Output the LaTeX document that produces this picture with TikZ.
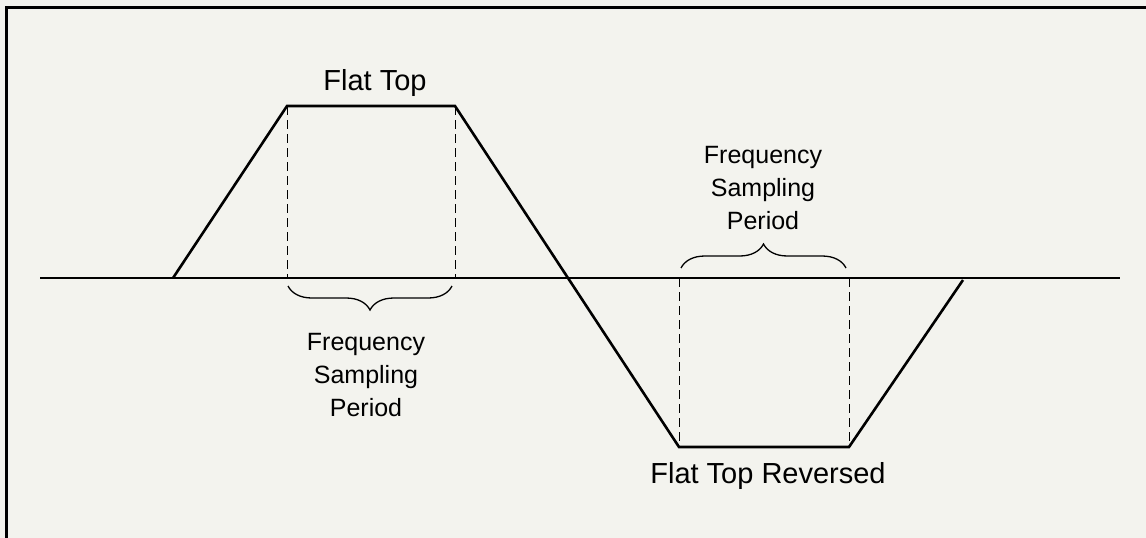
\documentclass[tikz,border=0pt]{standalone}
\usepackage{fontspec}
\setmainfont{Liberation Sans}
\usepackage{tikz}
\usetikzlibrary{decorations.pathreplacing}

\definecolor{paper}{HTML}{F3F3EE}

\begin{document}
\begin{tikzpicture}[
    x=1pt, y=-1pt,
    wave/.style={line width=2.6pt, line join=miter},
    axisline/.style={line width=1.4pt},
    guide/.style={dashed, line width=0.8pt, dash pattern=on 9pt off 5pt},
    brc/.style={decorate, decoration={brace, amplitude=24pt}, line width=1.3pt},
    title/.style={font=\fontsize{29}{34}\selectfont, inner sep=0pt},
    note/.style={font=\fontsize{25}{33}\selectfont, align=center, inner sep=0pt}
  ]
    \useasboundingbox (0,0) rectangle (1146,538);
    \fill[paper] (0,0) rectangle (1146,538);
    \draw[line width=3pt] (6,538) -- (6,7.5) -- (1146,7.5);

    % axis
    \coordinate (axl) at (40,278);
    \coordinate (axr) at (1120,278);
    \draw[axisline] (axl) -- (axr);

    % waveform corners
    \coordinate (w0) at (173,278);
    \coordinate (w1) at (287,106);
    \coordinate (w2) at (455,106);
    \coordinate (w3) at (679,447);
    \coordinate (w4) at (849,447);
    \coordinate (w5) at (963,280);
    \draw[wave] (w0) -- (w1) -- (w2) -- (w3) -- (w4) -- (w5);

    % sampling windows
    \draw[guide] (w1) -- (287,278);
    \draw[guide] (w2) -- (455,278);
    \draw[guide] (679,278) -- (w3);
    \draw[guide] (849,278) -- (w4);

    \draw[brc] (452,286) -- (288,286);
    \draw[brc] (681,268) -- (846,268);

    % labels
    \node[title] (flattop) at (375,83) {Flat Top};
    \node[title] (flatrev) at (768,476) {Flat Top Reversed};
    \node[note] (freqlow) at (366,375) {Frequency\\Sampling\\Period};
    \node[note] (freqhigh) at (763,188) {Frequency\\Sampling\\Period};
\end{tikzpicture}
\end{document}
